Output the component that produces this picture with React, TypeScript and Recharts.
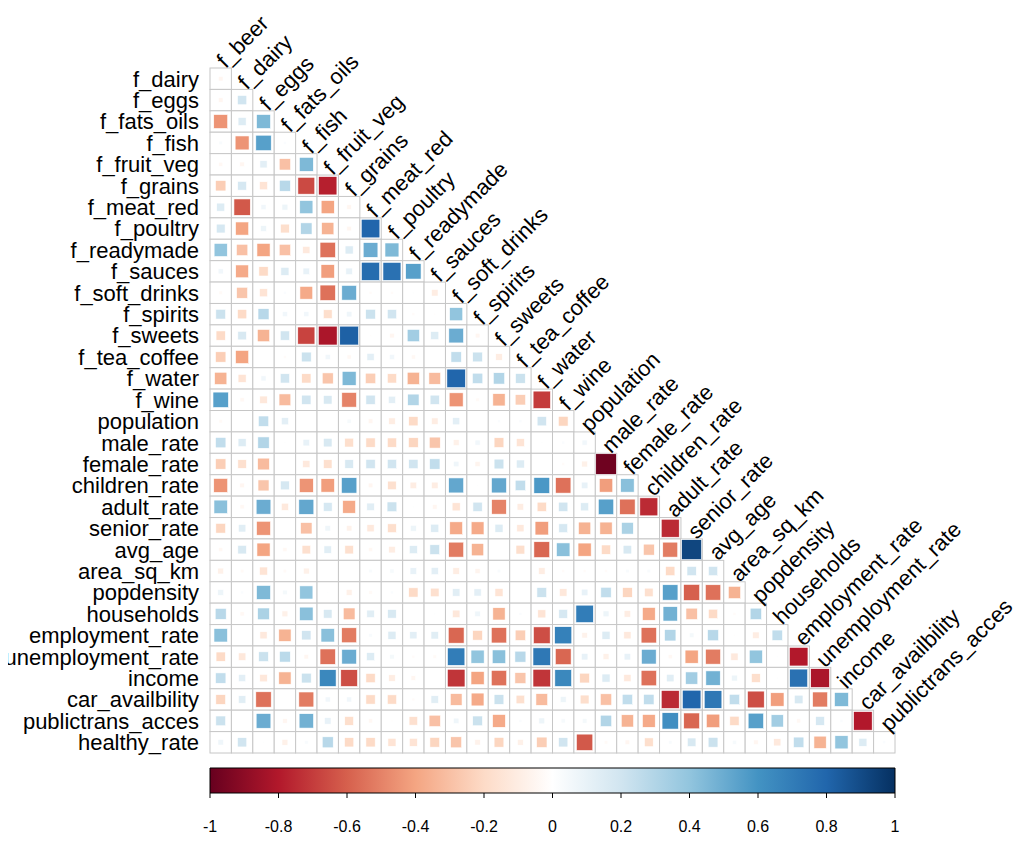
import React from 'react';
import { ScatterChart, Scatter, XAxis, YAxis, ReferenceArea } from 'recharts';

const variables = [
  'f_beer', 'f_dairy', 'f_eggs', 'f_fats_oils', 'f_fish', 'f_fruit_veg', 'f_grains', 'f_meat_red',
  'f_poultry', 'f_readymade', 'f_sauces', 'f_soft_drinks', 'f_spirits', 'f_sweets', 'f_tea_coffee',
  'f_water', 'f_wine', 'population', 'male_rate', 'female_rate', 'children_rate', 'adult_rate',
  'senior_rate', 'avg_age', 'area_sq_km', 'popdensity', 'households', 'employment_rate',
  'unemployment_rate', 'income', 'car_availbility', 'publictrans_acces', 'healthy_rate',
];
const rowNames = variables.slice(1);
const colNames = variables.slice(0, 32);

const r_f_dairy = [-0.05];
const r_f_eggs = [-0.05, 0.2];
const r_f_fats_oils = [-0.45, 0.15, 0.45];
const r_f_fish = [0.03, -0.45, 0.55, 0.02];
const r_f_fruit_veg = [-0.04, -0.05, 0.12, -0.3, 0.45];
const r_f_grains = [-0.25, 0.18, -0.15, 0.28, -0.66, -0.78];
const r_f_meat_red = [0.15, -0.62, 0.06, 0.08, 0.4, -0.4, -0.05];
const r_f_poultry = [0.18, -0.4, 0.08, -0.18, 0.3, -0.35, -0.05, 0.8];
const r_f_readymade = [0.4, -0.3, -0.4, -0.3, -0.12, -0.55, 0.15, 0.5, 0.45];
const r_f_sauces = [0.06, -0.38, -0.2, 0.15, 0.1, -0.42, 0.1, 0.77, 0.75, 0.55];
const r_f_soft_drinks = [-0.03, -0.28, -0.15, 0.02, -0.38, -0.55, 0.5, -0.02, -0.02, 0.01, -0.1];
const r_f_spirits = [0.22, -0.2, 0.28, 0.06, 0.06, -0.18, 0.07, 0.22, 0.2, -0.02, -0.01, 0.4];
const r_f_sweets = [-0.2, 0.17, -0.35, 0.2, -0.68, -0.82, 0.82, -0.01, -0.05, 0.35, 0.15, 0.5, -0.05];
const r_f_tea_coffee = [-0.25, -0.4, 0.0, -0.02, 0.22, 0.06, -0.04, 0.12, 0.06, -0.04, 0.0, 0.25, 0.22, -0.1];
const r_f_water = [-0.35, -0.15, 0.06, 0.2, -0.2, -0.28, 0.45, -0.25, -0.2, -0.35, -0.32, 0.8, 0.25, 0.3, 0.22];
const r_f_wine = [0.55, -0.04, -0.13, -0.32, 0.2, 0.17, -0.5, 0.2, 0.12, 0.3, 0.2, -0.45, -0.03, -0.35, -0.25, -0.7];
const r_population = [-0.03, 0.0, 0.25, 0.12, 0.0, 0.0, 0.04, -0.05, -0.1, -0.2, -0.1, 0.12, 0.0, 0.02, 0.02, 0.2, -0.22];
const r_male_rate = [0.25, 0.15, 0.3, 0.01, 0.1, 0.17, -0.18, -0.2, -0.2, -0.22, -0.28, -0.08, 0.06, -0.22, -0.15, 0.01, 0.02, 0.06];
const r_female_rate = [-0.25, -0.17, -0.32, 0.0, -0.12, -0.17, 0.17, 0.2, 0.2, 0.2, 0.25, 0.07, -0.06, 0.22, 0.15, 0.0, -0.02, -0.08, -0.98];
const r_children_rate = [-0.45, -0.05, -0.28, 0.18, -0.45, -0.42, 0.55, -0.05, -0.17, -0.1, -0.1, 0.52, 0.01, 0.52, 0.25, 0.58, -0.55, 0.1, -0.42, 0.42];
const r_adult_rate = [0.42, -0.04, 0.5, -0.12, 0.52, 0.18, -0.38, 0.13, 0.22, 0.01, -0.05, -0.15, 0.2, -0.5, -0.1, -0.2, 0.2, 0.15, 0.55, -0.55, -0.75];
const r_senior_rate = [-0.22, 0.13, -0.45, 0.0, -0.3, 0.07, -0.07, -0.12, -0.18, 0.08, 0.15, -0.38, -0.38, 0.15, -0.12, -0.42, 0.18, -0.35, -0.35, 0.32, 0.0, -0.75];
const r_avg_age = [-0.04, 0.17, -0.4, -0.04, -0.17, 0.13, -0.17, -0.04, -0.1, 0.15, 0.22, -0.52, -0.35, 0.0, -0.18, -0.58, 0.42, -0.4, -0.2, 0.17, -0.28, -0.52, 0.92];
const r_area_sq_km = [-0.08, -0.03, -0.15, -0.03, -0.08, 0.0, 0.0, 0.03, 0.04, 0.1, 0.12, -0.1, -0.06, 0.03, 0.0, -0.1, -0.02, -0.02, -0.02, 0.03, 0.03, -0.2, 0.2, 0.2];
const r_popdensity = [0.08, 0.02, 0.45, 0.05, 0.4, 0.01, -0.08, -0.03, 0.02, -0.2, -0.17, 0.13, 0.12, -0.15, 0.0, 0.22, -0.13, 0.1, 0.25, -0.22, -0.17, 0.55, -0.6, -0.55, -0.35];
const r_households = [0.28, -0.04, 0.32, -0.08, 0.42, 0.17, -0.32, 0.13, 0.17, 0.0, 0.01, -0.13, 0.07, -0.35, 0.02, -0.15, 0.18, 0.7, 0.08, -0.1, -0.38, 0.48, -0.3, -0.2, -0.02, 0.3];
const r_employment_rate = [0.42, 0.0, -0.12, -0.35, 0.2, 0.42, -0.52, 0.03, 0.15, 0.12, 0.13, -0.58, -0.22, -0.55, -0.25, -0.65, 0.68, -0.07, 0.15, -0.12, -0.55, 0.3, 0.05, 0.28, -0.01, -0.1, 0.25];
const r_unemployment_rate = [-0.2, -0.13, 0.22, 0.27, -0.05, -0.55, 0.5, 0.15, 0.05, -0.02, -0.03, 0.7, 0.4, 0.42, 0.28, 0.72, -0.58, 0.1, -0.08, 0.1, 0.5, -0.04, -0.4, -0.52, -0.12, 0.4, 0.01, -0.8];
const r_income = [0.25, 0.12, -0.13, -0.35, 0.22, 0.65, -0.65, -0.2, -0.1, -0.05, 0.0, -0.72, -0.4, -0.55, -0.28, -0.72, 0.65, -0.22, 0.15, -0.12, -0.55, 0.13, 0.35, 0.48, 0.08, -0.18, 0.01, 0.75, -0.82];
const r_car_availbility = [-0.22, 0.13, -0.55, 0.0, -0.52, 0.06, 0.06, -0.2, -0.2, -0.02, 0.13, -0.32, -0.38, 0.22, -0.17, -0.32, 0.08, -0.18, -0.3, 0.25, 0.25, -0.75, 0.8, 0.72, 0.25, -0.65, -0.42, 0.17, -0.52, 0.45];
const r_publictrans_acces = [0.22, 0.0, 0.5, -0.05, 0.48, 0.1, -0.18, -0.04, -0.01, -0.17, -0.3, 0.07, 0.22, -0.38, 0.02, 0.08, 0.04, 0.05, 0.3, -0.35, -0.38, 0.62, -0.58, -0.42, -0.2, 0.55, 0.35, -0.04, 0.18, 0.02, -0.8];
const r_healthy_rate = [0.07, 0.2, 0.01, -0.08, 0.03, 0.28, -0.2, -0.2, -0.15, -0.15, -0.22, -0.28, -0.07, -0.22, -0.08, -0.25, 0.2, -0.62, -0.03, -0.05, -0.18, 0.03, 0.17, 0.22, 0.04, -0.05, -0.12, 0.25, -0.35, 0.4, 0.15, 0.02];

const corrRows = [
  r_f_dairy, r_f_eggs, r_f_fats_oils, r_f_fish, r_f_fruit_veg, r_f_grains, r_f_meat_red, r_f_poultry,
  r_f_readymade, r_f_sauces, r_f_soft_drinks, r_f_spirits, r_f_sweets, r_f_tea_coffee, r_f_water, r_f_wine,
  r_population, r_male_rate, r_female_rate, r_children_rate, r_adult_rate, r_senior_rate, r_avg_age,
  r_area_sq_km, r_popdensity, r_households, r_employment_rate, r_unemployment_rate, r_income,
  r_car_availbility, r_publictrans_acces, r_healthy_rate,
];

const colorbarTicks = [-1, -0.8, -0.6, -0.4, -0.2, 0, 0.2, 0.4, 0.6, 0.8, 1];

const palette = ['#67001F', '#B2182B', '#D6604D', '#F4A582', '#FDDBC7', '#FFFFFF', '#D1E5F0', '#92C5DE', '#4393C3', '#2166AC', '#053061'];

const FONT = '"Liberation Sans", Arial, Helvetica, sans-serif';
const W = 1024;
const H = 760;
const PLOT_LEFT = 210;
const PLOT_TOP = 68;
const PLOT_SIZE = 685;
const N = 32;
const CELL = PLOT_SIZE / N;

function hexToRgb(h: string) {
  const v = parseInt(h.slice(1), 16);
  return [(v >> 16) & 255, (v >> 8) & 255, v & 255];
}
function colorFor(r: number) {
  const t = Math.max(0, Math.min(1, (r + 1) / 2)) * (palette.length - 1);
  const i = Math.min(palette.length - 2, Math.floor(t));
  const f = t - i;
  const a = hexToRgb(palette[i]);
  const b = hexToRgb(palette[i + 1]);
  const c = a.map((v, k) => Math.round(v + (b[k] - v) * f));
  return `rgb(${c[0]},${c[1]},${c[2]})`;
}

const cellData = corrRows.flatMap((row, i) => row.map((r, j) => ({ x: j + 0.5, y: i + 0.5, r })));
const rowLabelData = rowNames.map((name, i) => ({ x: 0, y: i + 0.5, name }));
const colLabelData = colNames.map((name, j) => ({ x: j + 0.5, y: j, name }));

const GridShape = (props: any) => {
  const { cx, cy } = props;
  if (cx == null || cy == null) return <g />;
  return <rect x={cx - CELL / 2} y={cy - CELL / 2} width={CELL} height={CELL} fill="#FFFFFF" stroke="#C6C6C6" strokeWidth={1} />;
};

const SquareShape = (props: any) => {
  const { cx, cy, payload } = props;
  if (cx == null || cy == null) return <g />;
  const side = CELL * 0.97 * Math.sqrt(Math.abs(payload.r));
  if (side < 0.5) return <g />;
  const col = colorFor(payload.r);
  return <rect x={cx - side / 2} y={cy - side / 2} width={side} height={side} fill={col} stroke="#FFFFFF" strokeWidth={0.6} />;
};

const RowLabel = (props: any) => {
  const { cx, cy, payload } = props;
  if (cx == null || cy == null) return <g />;
  return (
    <text x={cx - 11} y={cy} dy="0.36em" textAnchor="end" fontSize={22} fontFamily={FONT} fill="#000">
      {payload.name}
    </text>
  );
};

const ColLabel = (props: any) => {
  const { cx, cy, payload } = props;
  if (cx == null || cy == null) return <g />;
  const x = cx + 5;
  const y = cy + 1;
  return (
    <text x={x} y={y} textAnchor="start" fontSize={22} fontFamily={FONT} fill="#000" transform={`rotate(-45 ${x} ${y})`}>
      {payload.name}
    </text>
  );
};

const Empty = () => <g />;

const cbData = colorbarTicks.map((t) => ({ x: t, y: 0.5 }));

export default function App() {
  const CB_H = 86;
  const CB_TOP = 8;
  const CB_BAR = 25;
  const AXIS_H = 45;
  return (
    <div style={{ width: W, margin: '-8px 0 0 -8px', background: '#fff' }}>
      <ScatterChart
        width={W}
        height={H}
        margin={{ top: PLOT_TOP, left: PLOT_LEFT, right: W - PLOT_LEFT - PLOT_SIZE, bottom: H - PLOT_TOP - PLOT_SIZE }}
      >
        <XAxis type="number" dataKey="x" domain={[0, N]} hide />
        <YAxis type="number" dataKey="y" domain={[0, N]} reversed hide />
        <Scatter data={cellData} shape={GridShape} isAnimationActive={false} />
        <Scatter data={cellData} shape={SquareShape} isAnimationActive={false} />
        <Scatter data={rowLabelData} shape={RowLabel} isAnimationActive={false} />
        <Scatter data={colLabelData} shape={ColLabel} isAnimationActive={false} />
      </ScatterChart>
      <ScatterChart
        width={W}
        height={CB_H}
        margin={{ top: CB_TOP, left: PLOT_LEFT, right: W - PLOT_LEFT - PLOT_SIZE, bottom: CB_H - CB_TOP - CB_BAR - AXIS_H }}
      >
        <defs>
          <linearGradient id="cbGrad" x1="0" y1="0" x2="1" y2="0">
            {palette.map((c, i) => (
              <stop key={i} offset={`${(i / (palette.length - 1)) * 100}%`} stopColor={c} />
            ))}
          </linearGradient>
        </defs>
        <XAxis
          type="number"
          dataKey="x"
          domain={[-1, 1]}
          ticks={colorbarTicks}
          height={AXIS_H}
          axisLine={false}
          tickLine={{ stroke: '#000' }}
          tickSize={5}
          tickMargin={23}
          interval={0}
          tickFormatter={(v: number) => String(Math.round(v * 10) / 10)}
          tick={{ fontSize: 16, fontFamily: FONT, fill: '#000' }}
        />
        <YAxis type="number" dataKey="y" domain={[0, 1]} hide />
        <Scatter data={cbData} shape={Empty} isAnimationActive={false} />
        <ReferenceArea x1={-1} x2={1} y1={0} y2={1} fill="url(#cbGrad)" fillOpacity={1} stroke="#000" strokeWidth={1} />
      </ScatterChart>
    </div>
  );
}
